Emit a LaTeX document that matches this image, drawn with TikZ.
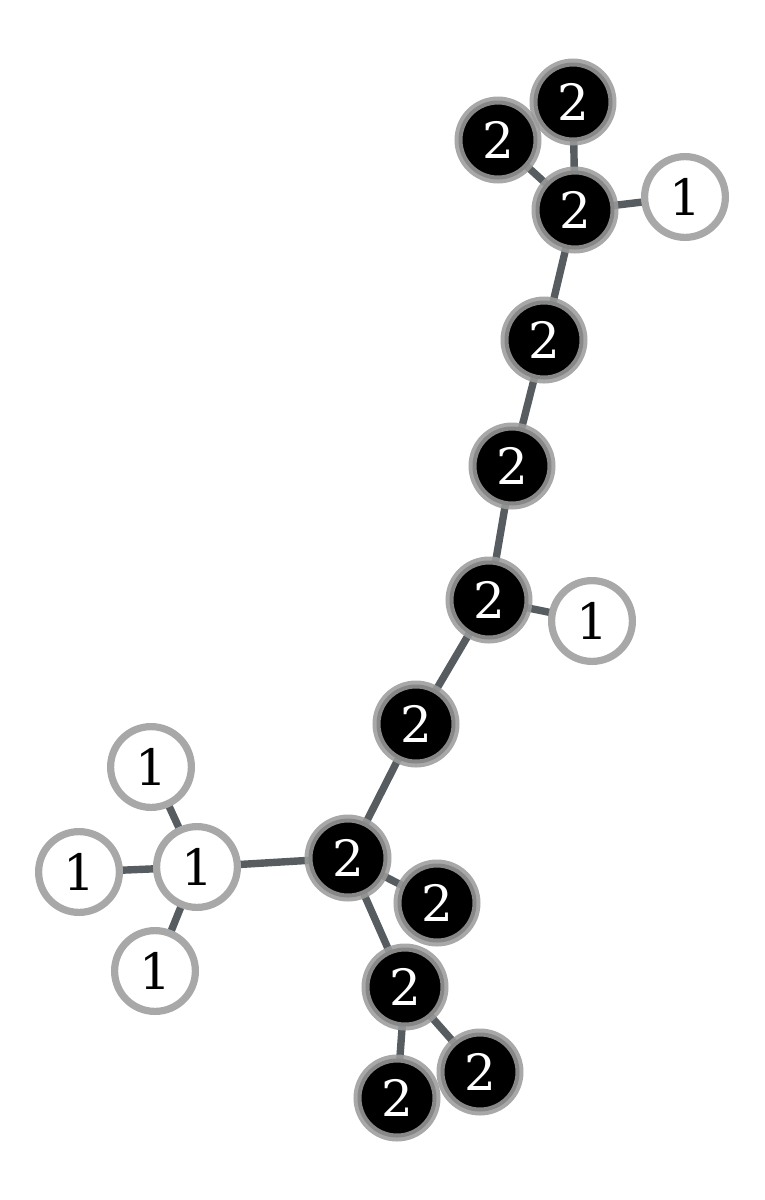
\documentclass[tikz,border=0pt]{standalone}
\usepackage{fontspec}
\setmainfont{DejaVu Serif}
\definecolor{edgecol}{RGB}{86,92,95}
\definecolor{ringcol}{RGB}{168,168,168}
\definecolor{ringblk}{RGB}{155,155,155}
\tikzset{
  wnode/.style={circle, draw=ringcol, fill=white, line width=3.6pt, minimum size=40.4pt, inner sep=0pt, text=black, font=\fontsize{25}{29}\selectfont},
  bnode/.style={circle, draw=ringblk, draw opacity=0.875, fill=black, line width=4pt, minimum size=39.5pt, inner sep=0pt, text=white, font=\fontsize{25}{29}\selectfont},
  edge/.style={draw=edgecol, line width=3.7pt}
}
\begin{document}
\begin{tikzpicture}[x=0.5pt,y=-0.5pt]
\useasboundingbox (0,0) rectangle (765,1200);
\coordinate (pA) at (573,102);
\coordinate (pB) at (498,140);
\coordinate (pC) at (575,210);
\coordinate (pD) at (685,197);
\coordinate (pE) at (544,340);
\coordinate (pF) at (512,466);
\coordinate (pG) at (489,600);
\coordinate (pH) at (592,621);
\coordinate (pI) at (416,724);
\coordinate (pJ) at (348,858);
\coordinate (pK) at (197,867);
\coordinate (pL) at (151,767);
\coordinate (pM) at (79,872);
\coordinate (pN) at (155,971);
\coordinate (pO) at (437,903);
\coordinate (pP) at (405,987);
\coordinate (pQ) at (480,1072);
\coordinate (pR) at (397,1098);
\foreach \a/\b in {A/C,B/C,C/D,C/E,E/F,F/G,G/H,G/I,I/J,J/K,K/L,K/M,K/N,J/O,J/P,P/Q,P/R}
  \draw[edge] (p\a) -- (p\b);
\node[wnode] (D) at (pD) {1};
\node[wnode] (H) at (pH) {1};
\node[wnode] (K) at (pK) {1};
\node[wnode] (L) at (pL) {1};
\node[wnode] (M) at (pM) {1};
\node[wnode] (N) at (pN) {1};
\node[bnode] (C) at (pC) {2};
\node[bnode] (B) at (pB) {2};
\node[bnode] (A) at (pA) {2};
\node[bnode] (E) at (pE) {2};
\node[bnode] (F) at (pF) {2};
\node[bnode] (G) at (pG) {2};
\node[bnode] (I) at (pI) {2};
\node[bnode] (J) at (pJ) {2};
\node[bnode] (P) at (pP) {2};
\node[bnode] (O) at (pO) {2};
\node[bnode] (Q) at (pQ) {2};
\node[bnode] (R) at (pR) {2};
\end{tikzpicture}
\end{document}
